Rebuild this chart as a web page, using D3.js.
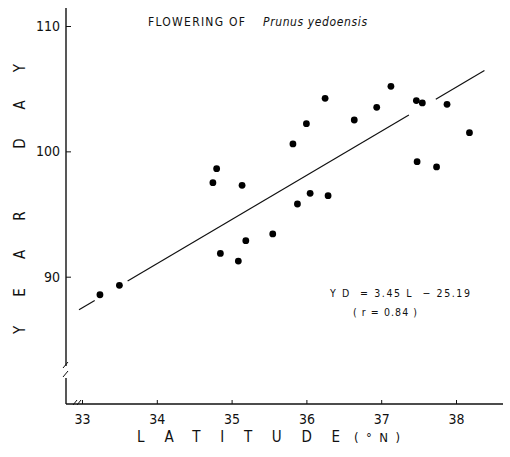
<!DOCTYPE html>
<html><head><meta charset="utf-8">
<script src="https://cdn.jsdelivr.net/npm/d3@7"></script>
<style>
body{margin:0;background:#fff;}
text{font-family:"DejaVu Sans Condensed","DejaVu Sans",sans-serif;fill:#111;}
</style></head>
<body><svg id="c" width="510" height="457"></svg>
<script>
// Data
const latitude = [33.24,33.50,34.80,34.75,35.14,34.85,35.09,35.19,35.55,35.82,36.00,36.25,36.64,35.88,36.05,36.29,36.94,37.13,37.47,37.55,37.88,38.18,37.48,37.74];
const yearDay  = [88.56,89.31,98.62,97.50,97.29,91.86,91.25,92.87,93.41,100.59,102.21,104.23,102.50,95.80,96.65,96.46,103.51,105.19,104.05,103.86,103.75,101.49,99.18,98.76];
// regression line segments (drawn with gaps as in the figure)
const lineLat = [[32.96,33.17],[33.61,37.37],[37.73,38.38]];
const lineSlope = 3.52, lineIntercept = -28.65;
const xTicks = [33,34,35,36,37,38];
const yTicks = [90,100,110];
const title1 = "FLOWERING OF", title2 = "Prunus yedoensis";
const eq1 = "Y D  = 3.45 L  − 25.19", eq2 = "( r = 0.84 )";

const svg = d3.select("#c");
const x = d3.scaleLinear().domain([33,38]).range([82,456]);
const y = d3.scaleLinear().domain([90,110]).range([276.7,26]);
const axisY = 404, axisX = 66;

// axes
const gx = svg.append("g").attr("transform",`translate(0,${axisY})`)
  .call(d3.axisBottom(x).tickValues(xTicks).tickFormat(d3.format("d")).tickSizeInner(-4).tickSizeOuter(0).tickPadding(10));
gx.select(".domain").remove();
gx.selectAll("text").attr("font-size",14).attr("fill","#111");
gx.selectAll("line").attr("stroke","#111");
svg.append("line").attr("x1",axisX).attr("x2",503).attr("y1",axisY).attr("y2",axisY).attr("stroke","#111").attr("stroke-width",1.4);

const gy = svg.append("g").attr("transform",`translate(${axisX},0)`)
  .call(d3.axisLeft(y).tickValues(yTicks).tickFormat(d3.format("d")).tickSizeInner(-5).tickSizeOuter(0).tickPadding(6));
gy.select(".domain").remove();
gy.selectAll("text").attr("font-size",14).attr("fill","#111");
gy.selectAll("line").attr("stroke","#111");
// y axis line with break
svg.append("line").attr("x1",axisX).attr("x2",axisX).attr("y1",8).attr("y2",366).attr("stroke","#111").attr("stroke-width",1.4);
svg.append("line").attr("x1",axisX).attr("x2",axisX).attr("y1",378).attr("y2",axisY).attr("stroke","#111").attr("stroke-width",1.4);
svg.append("path").attr("d",`M${axisX-3},${368}L${axisX+2},${362}M${axisX-3},${377}L${axisX+2},${371}`).attr("stroke","#111").attr("fill","none");
// x-axis break
svg.append("path").attr("d",`M73,${axisY+1}L77,${axisY-4}M77,${axisY+1}L81,${axisY-4}`).attr("stroke","#111").attr("fill","none");

// regression line
lineLat.forEach(s=>{
  svg.append("line")
    .attr("x1",x(s[0])).attr("y1",y(lineSlope*s[0]+lineIntercept))
    .attr("x2",x(s[1])).attr("y2",y(lineSlope*s[1]+lineIntercept))
    .attr("stroke","#111").attr("stroke-width",1.2);
});

// points
svg.selectAll("circle.pt").data(latitude.map((l,i)=>[l,yearDay[i]])).enter()
  .append("circle").attr("class","pt")
  .attr("cx",d=>x(d[0])).attr("cy",d=>y(d[1])).attr("r",3.4).attr("fill","#000");

// title
svg.append("text").attr("x",148).attr("y",26).attr("font-size",12)
  .attr("textLength",97).attr("lengthAdjust","spacing").text(title1);
svg.append("text").attr("x",263).attr("y",26).attr("font-size",12).attr("font-style","italic")
  .attr("textLength",104).attr("lengthAdjust","spacing").text(title2);

// equation
svg.append("text").attr("x",330).attr("y",297).attr("font-size",10.5)
  .attr("textLength",140).attr("lengthAdjust","spacing").attr("xml:space","preserve").text(eq1);
svg.append("text").attr("x",353).attr("y",316).attr("font-size",10.5)
  .attr("textLength",64).attr("lengthAdjust","spacing").attr("xml:space","preserve").text(eq2);

// axis titles
svg.append("text").attr("x",137).attr("y",442).attr("font-size",15)
  .attr("textLength",203).attr("lengthAdjust","spacing").text("LATITUDE");
svg.append("text").attr("x",354).attr("y",442).attr("font-size",13)
  .attr("textLength",46).attr("lengthAdjust","spacing").text("(°N)");
svg.append("text").attr("transform","translate(25,334) rotate(-90)").attr("font-size",15)
  .attr("textLength",270).attr("lengthAdjust","spacing").attr("xml:space","preserve").text("YEAR DAY");
</script></body></html>
